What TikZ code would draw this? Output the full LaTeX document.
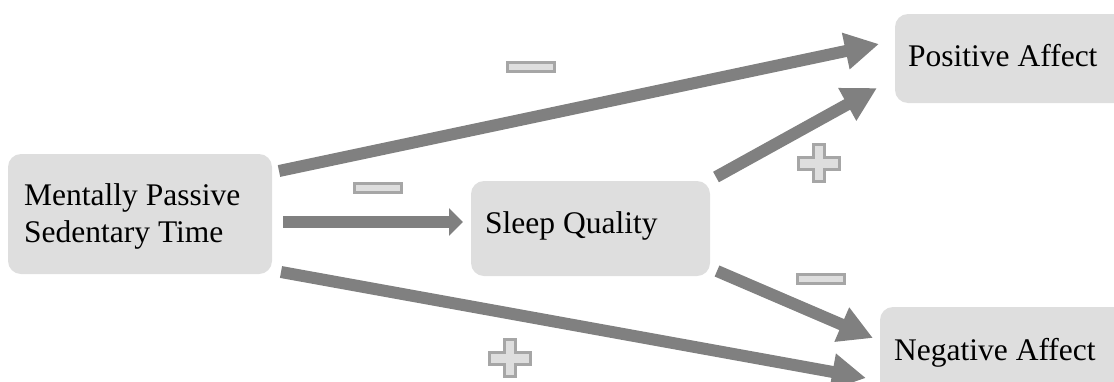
\documentclass[tikz,border=0pt]{standalone}
\usepackage{fontspec}
\setmainfont{Liberation Serif}
\usetikzlibrary{arrows.meta}
\definecolor{boxgray}{HTML}{DEDEDE}
\definecolor{arrowgray}{HTML}{808080}
\definecolor{signedge}{HTML}{A6A6A6}
\begin{document}
\begin{tikzpicture}[x=1pt,y=-1pt,
  box/.style={fill=boxgray, rounded corners=13pt, inner sep=0pt, draw=none},
  lbl/.style={anchor=base west, inner sep=0pt, font=\fontsize{31.5}{37}\selectfont},
  bigarrow/.style={draw=arrowgray, line width=12pt, -{Triangle[length=34pt,width=35pt]}},
  smallarrow/.style={draw=arrowgray, line width=12pt, -{Triangle[length=14pt,width=27pt]}},
  signstyle/.style={draw=signedge, fill=boxgray, line width=3pt},
  minussign/.pic={\path[signstyle] (-23.5,-4.5) rectangle (23.5,4.5);},
  plussign/.pic={\path[signstyle] (-5.5,-18.5) -- (5.5,-18.5) -- (5.5,-6) -- (20.5,-6) -- (20.5,6) -- (5.5,6) -- (5.5,18.5) -- (-5.5,18.5) -- (-5.5,6) -- (-20.5,6) -- (-20.5,-6) -- (-5.5,-6) -- cycle;}
]
\useasboundingbox (0,0) rectangle (1114,381);
\clip (0,0) rectangle (1114,381);

% boxes
\node[box, minimum width=264pt, minimum height=120pt] (mpst) at (140,214) {};
\node[box, minimum width=239pt, minimum height=95pt] (sq) at (590.5,228.5) {};
\node[box, minimum width=240pt, minimum height=89pt] (pa) at (1015,58.5) {};
\node[box, minimum width=255pt, minimum height=93pt] (na) at (1007.5,353.5) {};

% texts
\node[lbl] (mpst-t1) at (24,205) {Mentally Passive};
\node[lbl] (mpst-t2) at (24,242) {Sedentary Time};
\node[lbl] (sq-t) at (485,233) {Sleep Quality};
\node[lbl] (pa-t) at (908,66) {Positive Affect};
\node[lbl] (na-t) at (894,360) {Negative Affect};

% connector end points
\coordinate (mpst-o1) at (279,171);
\coordinate (mpst-o2) at (283,222);
\coordinate (mpst-o3) at (281,272);
\coordinate (sq-o1) at (716,177);
\coordinate (sq-o2) at (717,271);
\coordinate (sq-i) at (463,222);
\coordinate (pa-i1) at (879,44);
\coordinate (pa-i2) at (877,88);
\coordinate (na-i1) at (873,338);
\coordinate (na-i2) at (866,378);

% connectors
\draw[bigarrow] (mpst-o1) -- (pa-i1);
\draw[smallarrow] (mpst-o2) -- (sq-i);
\draw[bigarrow] (mpst-o3) -- (na-i2);
\draw[bigarrow] (sq-o1) -- (pa-i2);
\draw[bigarrow] (sq-o2) -- (na-i1);

% signs
\pic at (531,67) {minussign};
\pic at (378,187.5) {minussign};
\pic at (821,279) {minussign};
\pic at (819,163) {plussign};
\pic at (510,358) {plussign};
\end{tikzpicture}
\end{document}
